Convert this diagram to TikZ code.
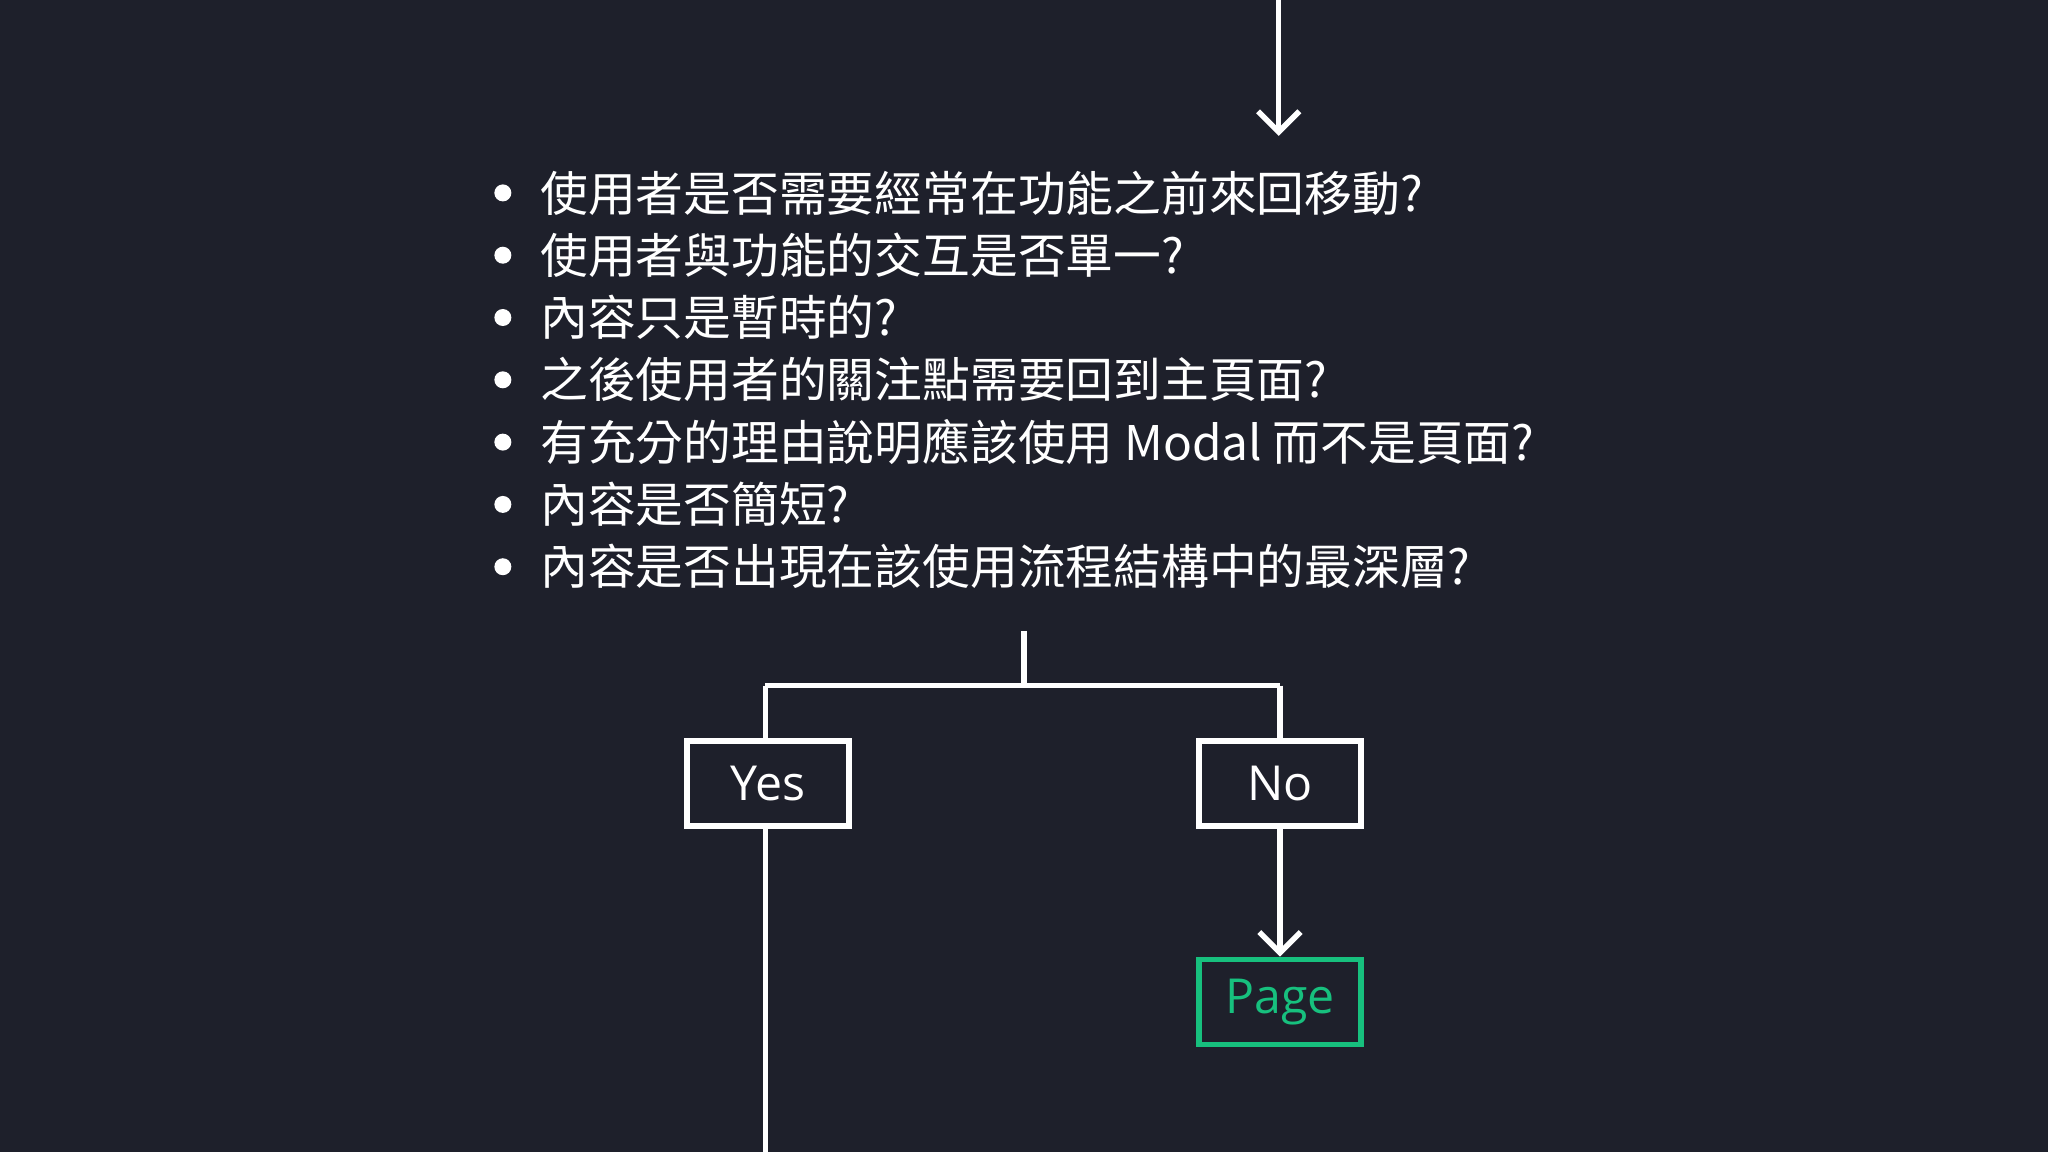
\documentclass[tikz,border=0pt]{standalone}
\usepackage{fontspec}
\setmainfont{Open Sans}
\newfontfamily\cjk{Noto Sans CJK TC}
\usetikzlibrary{arrows.meta}
\definecolor{bg}{HTML}{1E202B}
\definecolor{pgreen}{HTML}{17C07E}
\tikzset{
  conn/.style={draw=white,line width=1.2pt},
  arr/.style={conn,-{Straight Barb[length=4.5pt,width=9pt,line width=1.2pt]}},
  boxn/.style={draw=white,line width=1.2pt,minimum width=1.24cm,minimum height=0.65cm,text=white,font=\fontsize{10.5}{12}\selectfont,inner sep=0pt},
  item/.style={anchor=west,text=white,font=\cjk\fontsize{10.4}{12}\selectfont,inner sep=0pt},
  dot/.style={circle,fill=white,minimum size=0.13cm,inner sep=0pt}
}
\begin{document}
\begin{tikzpicture}[x=0.01cm,y=-0.01cm]
\fill[bg] (0,0) rectangle (1568,882);
\useasboundingbox (0,0) rectangle (1568,882);
\coordinate (topS) at (979,0);
\coordinate (topE) at (979,104);
\draw[arr] (topS) -- (topE);
\foreach \t [count=\i] in {使用者是否需要經常在功能之前來回移動?,使用者與功能的交互是否單一?,內容只是暫時的?,之後使用者的關注點需要回到主頁面?,有充分的理由說明應該使用 Modal 而不是頁面?,內容是否簡短?,內容是否出現在該使用流程結構中的最深層?}{
  \node[dot] (b\i) at (385,{100+47.7*\i}) {};
  \node[item] (t\i) at (413,{100+47.7*\i}) {\t};
}
\node[boxn] (yes) at (588,600) {Yes};
\node[boxn] (no) at (980,600) {No};
\node[boxn,draw=pgreen,text=pgreen] (page) at (980,767) {Page};
\coordinate (split) at (784,483);
\coordinate (sj) at (784,525);
\coordinate (yesB) at (586,882);
\draw[conn] (split) -- (sj);
\draw[conn] (586,525) -- (980,525);
\draw[conn] (586,525) -- (yes.north -| 586,0);
\draw[conn] (980,525) -- (no.north);
\draw[conn] (yes.south -| 586,0) -- (yesB);
\draw[arr] (no.south) -- (page.north);
\end{tikzpicture}
\end{document}
